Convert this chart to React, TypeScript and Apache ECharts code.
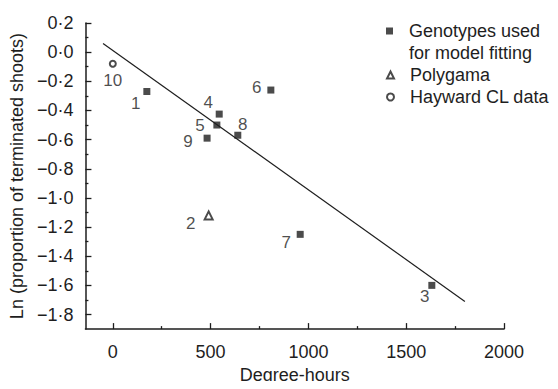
import React, { useEffect, useRef } from "react";
import * as echarts from "echarts";

// ---- data ----
const genotypeIds = ["1", "4", "5", "9", "8", "6", "7", "3"];
const genotypeX = [174, 544, 532, 482, 639, 808, 958, 1631];
const genotypeY = [-0.27, -0.425, -0.5, -0.59, -0.57, -0.26, -1.25, -1.6];

const polygamaIds = ["2"];
const polygamaX = [490];
const polygamaY = [-1.12];

const haywardIds = ["10"];
const haywardX = [0];
const haywardY = [-0.08];

const fitX = [-50, 1800];
const fitY = [0.06, -1.71];

const xMajorTicks = [0, 500, 1000, 1500, 2000];
const xMinorTicks = [250, 750, 1250, 1750];
const yMajorTicks = [0.2, 0, -0.2, -0.4, -0.6, -0.8, -1.0, -1.2, -1.4, -1.6, -1.8];
const yMinorTicks = [0.1, -0.1, -0.3, -0.5, -0.7, -0.9, -1.1, -1.3, -1.5, -1.7];

const legendGenotypes = "Genotypes used\nfor model fitting";
const legendPolygama = "Polygama";
const legendHayward = "Hayward CL data";

// label offsets (styling only)
const labelOffsets: Record<string, [number, number]> = {
  "1": [-11, 12],
  "4": [-11, -12],
  "5": [-17, 0],
  "9": [-19, 3],
  "8": [5, -11],
  "6": [-14, -3],
  "7": [-14, 8],
  "3": [-7, 11],
  "2": [-18, 8],
  "10": [0, 17],
};

const FONT = "'Liberation Sans', Arial, Helvetica, sans-serif";
const INK = "#1e1e1e";

function pts(ids: string[], xs: number[], ys: number[]) {
  return ids.map((id, i) => ({
    value: [xs[i], ys[i]],
    name: id,
    label: { offset: labelOffsets[id] },
  }));
}

function fmtY(v: number) {
  const s = Math.abs(v).toFixed(1).replace(".", "·");
  return (v < -1e-9 ? "−" : "") + s;
}

export default function App() {
  const ref = useRef<HTMLDivElement>(null);
  useEffect(() => {
    if (!ref.current) return;
    const chart = echarts.init(ref.current, undefined, { renderer: "svg" });
    const ptLabel = {
      show: true,
      position: "inside",
      formatter: (p: any) => p.name,
      color: INK,
      fontSize: 17,
      fontFamily: FONT,
      align: "center",
      verticalAlign: "middle",
    };
    const xCommon = {
      type: "value",
      min: -140,
      max: 2000,
      position: "bottom",
      splitLine: { show: false },
    };
    const yCommon = {
      type: "value",
      min: -1.9,
      max: 0.2,
      position: "left",
      splitLine: { show: false },
    };
    const legendBase = {
      orient: "vertical",
      left: 386,
      padding: 0,
      itemGap: 0,
      itemWidth: 7,
      itemHeight: 7,
      selectedMode: false,
      formatter: (name: string) => {
        if (name === legendGenotypes) {
          return "{s| }\n" + name.split("\n").map((l) => "{t|" + l + "}").join("\n");
        }
        return "{t|" + name + "}";
      },
      textStyle: {
        fontSize: 18,
        lineHeight: 22,
        fontFamily: FONT,
        color: INK,
        rich: {
          s: { fontSize: 18, lineHeight: 22, fontFamily: FONT },
          t: {
            fontSize: 18,
            lineHeight: 22,
            fontFamily: FONT,
            color: INK,
            padding: [0, 0, 0, 11],
          },
        },
      },
    };
    chart.setOption({
      animation: false,
      backgroundColor: "#ffffff",
      textStyle: { fontFamily: FONT, color: INK },
      grid: { left: 82, right: 54, top: 23, bottom: 54, containLabel: false },
      legend: [
        { ...legendBase, top: -2, data: [{ name: legendGenotypes, icon: "rect" }] },
        { ...legendBase, top: 64, data: [{ name: legendPolygama }] },
        { ...legendBase, top: 86, data: [{ name: legendHayward }] },
      ],
      xAxis: [
        {
          ...xCommon,
          name: "Degree-hours",
          nameLocation: "middle",
          nameGap: 36,
          nameTextStyle: { fontSize: 18, fontFamily: FONT, color: INK },
          axisLine: { show: true, onZero: false, lineStyle: { color: INK, width: 1.5 } },
          axisTick: {
            show: true,
            inside: true,
            length: 6,
            customValues: xMajorTicks,
            lineStyle: { color: INK, width: 1.3 },
          },
          axisLabel: {
            show: true,
            customValues: xMajorTicks,
            margin: 14,
            fontSize: 18,
            fontFamily: FONT,
            color: INK,
            formatter: (v: number) => String(v),
          },
        },
        {
          ...xCommon,
          axisLine: { show: false, onZero: false },
          axisTick: {
            show: true,
            inside: true,
            length: 3,
            customValues: xMinorTicks,
            lineStyle: { color: INK, width: 1.3 },
          },
          axisLabel: { show: false },
        },
      ],
      yAxis: [
        {
          ...yCommon,
          name: "Ln (proportion of terminated shoots)",
          nameLocation: "middle",
          nameGap: 52,
          nameTextStyle: { fontSize: 18, fontFamily: FONT, color: INK },
          axisLine: { show: true, onZero: false, lineStyle: { color: INK, width: 1.5 } },
          axisTick: {
            show: true,
            inside: true,
            length: 6,
            customValues: yMajorTicks,
            lineStyle: { color: INK, width: 1.3 },
          },
          axisLabel: {
            show: true,
            customValues: yMajorTicks,
            margin: 12,
            fontSize: 18,
            fontFamily: FONT,
            color: INK,
            formatter: (v: number) => fmtY(v),
          },
        },
        {
          ...yCommon,
          axisLine: { show: false, onZero: false },
          axisTick: {
            show: true,
            inside: true,
            length: 3,
            customValues: yMinorTicks,
            lineStyle: { color: INK, width: 1.3 },
          },
          axisLabel: { show: false },
        },
      ],
      series: [
        {
          type: "line",
          name: "fit",
          data: fitX.map((x, i) => [x, fitY[i]]),
          showSymbol: false,
          symbol: "none",
          lineStyle: { color: INK, width: 1.2 },
          silent: true,
          z: 1,
        },
        {
          type: "scatter",
          name: legendGenotypes,
          symbol: "rect",
          symbolSize: 7,
          itemStyle: { color: INK },
          data: pts(genotypeIds, genotypeX, genotypeY),
          label: ptLabel,
          z: 3,
        },
        {
          type: "scatter",
          name: legendPolygama,
          symbol: "emptyTriangle",
          symbolSize: 8,
          itemStyle: { color: INK, borderColor: INK, borderWidth: 1 },
          data: pts(polygamaIds, polygamaX, polygamaY),
          label: ptLabel,
          z: 3,
        },
        {
          type: "scatter",
          name: legendHayward,
          symbol: "emptyCircle",
          symbolSize: 6,
          itemStyle: { color: INK, borderColor: INK, borderWidth: 1 },
          data: pts(haywardIds, haywardX, haywardY),
          label: ptLabel,
          z: 3,
        },
      ],
    });
    return () => chart.dispose();
  }, []);
  return <div ref={ref} style={{ width: 558, height: 389, margin: -8 }} />;
}
